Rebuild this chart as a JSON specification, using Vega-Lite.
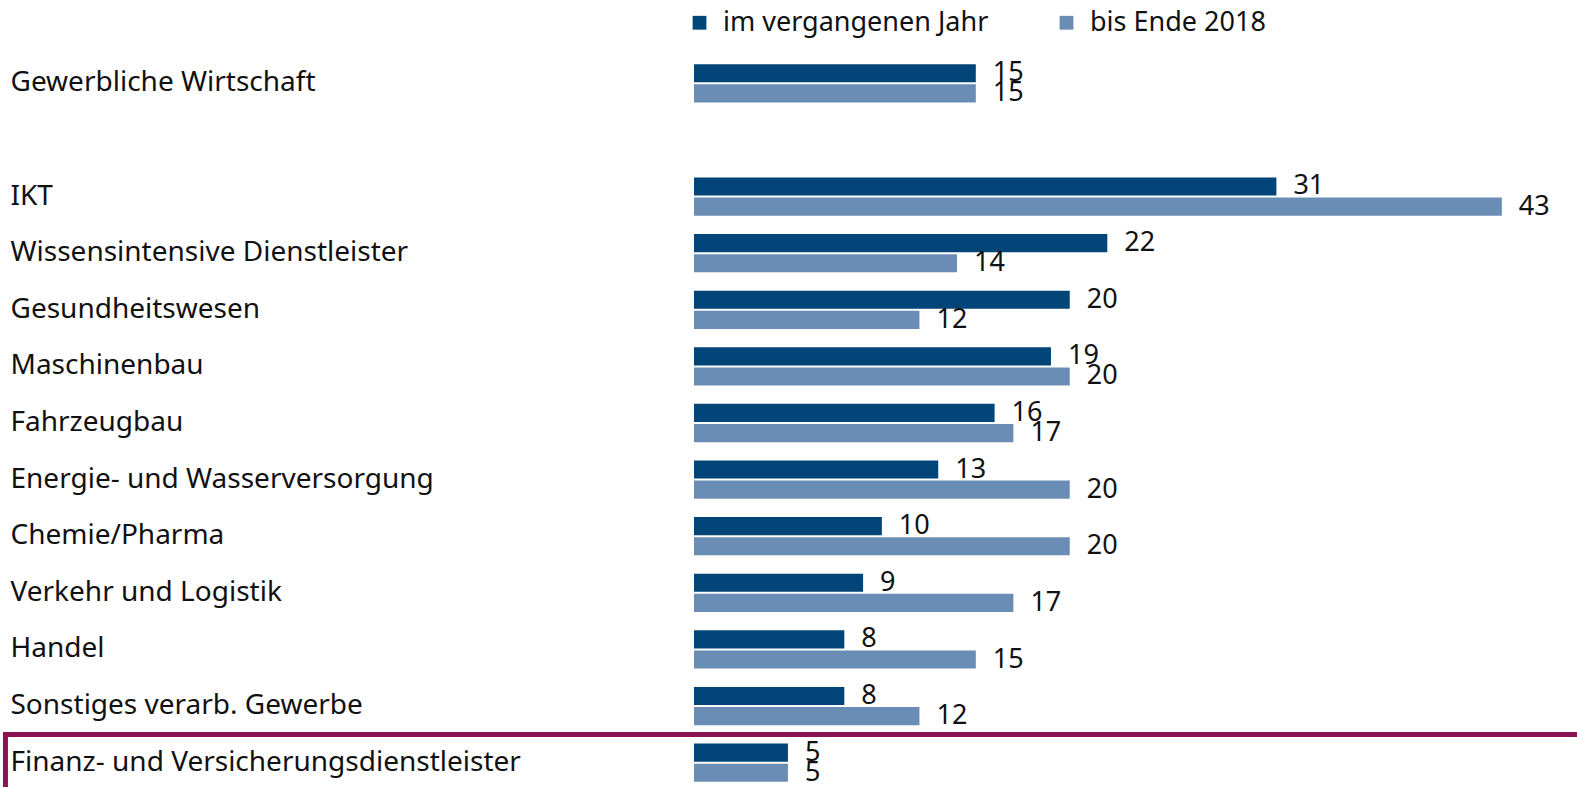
{
  "$schema": "https://vega.github.io/schema/vega-lite/v6.json",
  "autosize": "none",
  "width": 883,
  "height": 736,
  "padding": {"left": 694, "top": 55, "right": 0, "bottom": 0},
  "background": "white",
  "config": {
    "view": {"stroke": null},
    "font": "Noto Sans",
    "text": {"font": "Noto Sans"}
  },
  "datasets": {
    "bars": [
      {"category": "Gewerbliche Wirtschaft", "series": "im vergangenen Jahr", "value": 15},
      {"category": "Gewerbliche Wirtschaft", "series": "bis Ende 2018", "value": 15},
      {"category": "IKT", "series": "im vergangenen Jahr", "value": 31},
      {"category": "IKT", "series": "bis Ende 2018", "value": 43},
      {"category": "Wissensintensive Dienstleister", "series": "im vergangenen Jahr", "value": 22},
      {"category": "Wissensintensive Dienstleister", "series": "bis Ende 2018", "value": 14},
      {"category": "Gesundheitswesen", "series": "im vergangenen Jahr", "value": 20},
      {"category": "Gesundheitswesen", "series": "bis Ende 2018", "value": 12},
      {"category": "Maschinenbau", "series": "im vergangenen Jahr", "value": 19},
      {"category": "Maschinenbau", "series": "bis Ende 2018", "value": 20},
      {"category": "Fahrzeugbau", "series": "im vergangenen Jahr", "value": 16},
      {"category": "Fahrzeugbau", "series": "bis Ende 2018", "value": 17},
      {"category": "Energie- und Wasserversorgung", "series": "im vergangenen Jahr", "value": 13},
      {"category": "Energie- und Wasserversorgung", "series": "bis Ende 2018", "value": 20},
      {"category": "Chemie/Pharma", "series": "im vergangenen Jahr", "value": 10},
      {"category": "Chemie/Pharma", "series": "bis Ende 2018", "value": 20},
      {"category": "Verkehr und Logistik", "series": "im vergangenen Jahr", "value": 9},
      {"category": "Verkehr und Logistik", "series": "bis Ende 2018", "value": 17},
      {"category": "Handel", "series": "im vergangenen Jahr", "value": 8},
      {"category": "Handel", "series": "bis Ende 2018", "value": 15},
      {"category": "Sonstiges verarb. Gewerbe", "series": "im vergangenen Jahr", "value": 8},
      {"category": "Sonstiges verarb. Gewerbe", "series": "bis Ende 2018", "value": 12},
      {"category": "Finanz- und Versicherungsdienstleister", "series": "im vergangenen Jahr", "value": 5},
      {"category": "Finanz- und Versicherungsdienstleister", "series": "bis Ende 2018", "value": 5}
    ],
    "box": [
      {"category": "Finanz- und Versicherungsdienstleister", "start": -36.65, "end": 48}
    ]
  },
  "layer": [
    {
      "data": {"name": "bars"},
      "mark": {"type": "bar", "cornerRadius": 0},
      "encoding": {
        "y": {
          "field": "category", "type": "nominal",
          "scale": {
            "domain": ["Gewerbliche Wirtschaft", "", "IKT", "Wissensintensive Dienstleister", "Gesundheitswesen", "Maschinenbau", "Fahrzeugbau", "Energie- und Wasserversorgung", "Chemie/Pharma", "Verkehr und Logistik", "Handel", "Sonstiges verarb. Gewerbe", "Finanz- und Versicherungsdienstleister"],
            "paddingInner": 0, "paddingOuter": 0
          },
          "axis": {
            "title": null, "domain": false, "ticks": false, "labelAlign": "left",
            "labelPadding": 684, "labelLimit": 700, "labelFontSize": 28,
            "labelColor": "#111111", "labelFont": "Noto Sans"
          }
        },
        "yOffset": {
          "field": "series", "type": "nominal",
          "scale": {"domain": ["im vergangenen Jahr", "bis Ende 2018"], "paddingInner": 0.1, "paddingOuter": 0.456}
        },
        "x": {"field": "value", "type": "quantitative", "scale": {"domain": [0, 47], "nice": false, "zero": true}, "axis": null},
        "color": {
          "field": "series", "type": "nominal",
          "scale": {"domain": ["im vergangenen Jahr", "bis Ende 2018"], "range": ["#004478", "#6a8db5"]},
          "legend": {
            "title": null, "orient": "none", "legendX": -8, "legendY": -46, "direction": "horizontal", "padding": 0,
            "symbolType": "square", "symbolSize": 190, "symbolStrokeWidth": 0,
            "labelFontSize": 27, "labelColor": "#111111", "labelFont": "Noto Sans",
            "labelOffset": 10, "columnPadding": 64, "labelLimit": 500
          }
        }
      }
    },
    {
      "data": {"name": "bars"},
      "mark": {"type": "text", "align": "left", "baseline": "middle", "dx": 17, "fontSize": 27, "color": "#111111"},
      "encoding": {
        "y": {"field": "category", "type": "nominal"},
        "yOffset": {"field": "series", "type": "nominal"},
        "x": {"field": "value", "type": "quantitative"},
        "text": {"field": "value", "type": "quantitative"}
      }
    },
    {
      "data": {"name": "box"},
      "mark": {"type": "rect", "fill": null, "stroke": "#8b1450", "strokeWidth": 5, "clip": false},
      "encoding": {
        "y": {"field": "category", "type": "nominal"},
        "x": {"field": "start", "type": "quantitative"},
        "x2": {"field": "end"}
      }
    }
  ]
}
